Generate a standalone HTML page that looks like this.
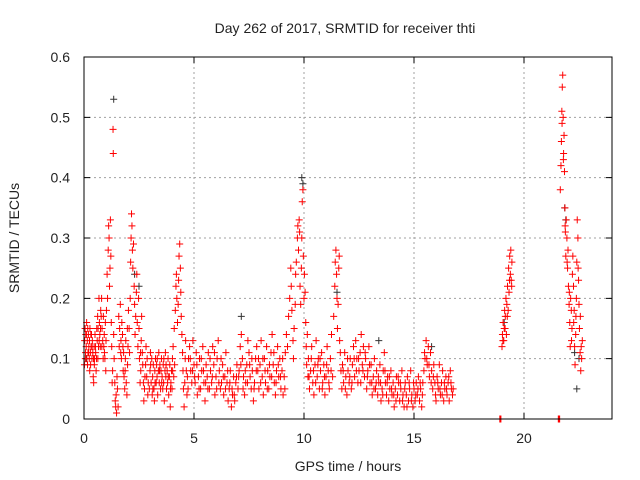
<!DOCTYPE html>
<html><head><meta charset="utf-8">
<style>
body{margin:0;background:#fff;}
svg{display:block;font-family:"Liberation Sans",sans-serif;}
</style></head>
<body>
<svg id="chart" width="640" height="480" viewBox="0 0 640 480">
<text x="345" y="33" font-size="14" text-anchor="middle" fill="#222">Day 262 of 2017, SRMTID for receiver thti</text>
<text x="348" y="471" font-size="14" text-anchor="middle" fill="#222">GPS time / hours</text>
<text transform="translate(19,238) rotate(-90)" font-size="14" text-anchor="middle" fill="#222">SRMTID / TECUs</text>
<g id="grid"></g>
<g id="ticks"></g>
<g id="black"></g>
<g id="red"></g>
<rect x="84" y="57" width="528" height="362" fill="none" stroke="#000" stroke-width="1"/>
</svg>
<script>
const xTicks=[0,5,10,15,20];
const yTicks=[0,0.1,0.2,0.3,0.4,0.5,0.6];
const yTickLabels=["0","0.1","0.2","0.3","0.4","0.5","0.6"];
const blackPts=[[1.35,0.53],[0.1,0.1],[2.3,0.24],[9.9,0.4],[9.95,0.39],[7.15,0.17],[21.85,0.35],[21.9,0.33],[22.3,0.11],[22.4,0.05],[22.5,0.1],[2.5,0.22],[11.5,0.21],[13.4,0.13],[19.1,0.16],[15.8,0.12]];
const redPts=[[0.02,0.09],[0.03,0.13],[0.05,0.15],[0.07,0.11],[0.08,0.14],[0.1,0.12],[0.12,0.16],[0.13,0.1],[0.15,0.13],[0.17,0.15],[0.18,0.11],[0.2,0.14],[0.22,0.12],[0.24,0.1],[0.25,0.13],[0.27,0.15],[0.29,0.11],[0.3,0.09],[0.32,0.12],[0.34,0.14],[0.36,0.1],[0.38,0.13],[0.4,0.11],[0.42,0.07],[0.44,0.06],[0.46,0.12],[0.48,0.1],[0.5,0.14],[0.52,0.12],[0.55,0.08],[0.57,0.1],[0.6,0.13],[0.62,0.17],[0.64,0.15],[0.66,0.12],[0.68,0.2],[0.7,0.16],[0.72,0.14],[0.74,0.12],[0.76,0.18],[0.78,0.17],[0.8,0.2],[0.82,0.15],[0.85,0.13],[0.87,0.1],[0.9,0.12],[0.92,0.14],[0.95,0.1],[0.97,0.16],[1.0,0.13],
[1.02,0.18],[1.05,0.24],[1.07,0.2],[1.1,0.28],[1.12,0.32],[1.14,0.3],[1.16,0.22],[1.18,0.25],[1.2,0.33],[1.22,0.27],[1.24,0.16],[1.26,0.12],[1.28,0.06],[1.3,0.08],[1.32,0.48],[1.33,0.44],[1.35,0.14],[1.37,0.1],[1.4,0.06],[1.42,0.03],[1.44,0.02],[1.46,0.04],[1.48,0.01],[1.5,0.07],[1.52,0.05],[1.55,0.02],
[1.6,0.12],[1.62,0.15],[1.65,0.19],[1.68,0.13],[1.7,0.1],[1.72,0.16],[1.75,0.14],[1.78,0.08],[1.8,0.11],[1.82,0.07],[1.85,0.05],[1.88,0.1],[1.9,0.13],[1.92,0.06],[1.95,0.04],[1.98,0.09],[2.0,0.12],[2.02,0.18],[2.05,0.15],
[2.1,0.2],[2.12,0.26],[2.14,0.3],[2.16,0.34],[2.18,0.32],[2.2,0.28],[2.22,0.25],[2.25,0.29],[2.28,0.22],[2.3,0.19],[2.32,0.14],[2.35,0.17],[2.38,0.21],[2.4,0.24],[2.42,0.16],[2.45,0.12],[2.48,0.2],[2.5,0.15],[2.52,0.1],[2.55,0.06],[2.58,0.08],[2.6,0.13],[2.62,0.17],[2.65,0.11],[2.7,0.06],[2.72,0.03],[2.75,0.05],[2.8,0.09],[2.82,0.12],[2.85,0.07],[2.9,0.04],[2.92,0.06],
[3.0,0.08],[3.02,0.11],[3.05,0.06],[3.08,0.1],[3.1,0.04],[3.12,0.07],[3.15,0.09],[3.18,0.05],[3.2,0.03],[3.22,0.08],[3.25,0.1],[3.28,0.06],[3.3,0.09],[3.32,0.07],[3.35,0.04],[3.38,0.08],[3.4,0.11],[3.42,0.06],[3.45,0.09],[3.48,0.05],[3.5,0.08],[3.52,0.1],[3.55,0.07],[3.58,0.05],[3.6,0.09],[3.62,0.06],[3.65,0.03],[3.68,0.08],[3.7,0.11],[3.72,0.07],[3.75,0.05],[3.78,0.08],[3.8,0.06],[3.82,0.1],[3.85,0.04],[3.88,0.07],[3.9,0.09],[3.92,0.02],[3.95,0.06],[3.98,0.08],[4.0,0.05],[4.02,0.1],[4.05,0.12],[4.08,0.07],[4.1,0.15],[4.12,0.09],
[4.15,0.18],[4.18,0.22],[4.2,0.24],[4.22,0.2],[4.25,0.16],[4.28,0.19],[4.3,0.23],[4.32,0.27],[4.35,0.29],[4.38,0.25],[4.4,0.21],[4.42,0.17],[4.45,0.14],[4.48,0.11],[4.5,0.08],[4.52,0.05],[4.55,0.02],[4.58,0.06],[4.6,0.1],[4.62,0.13],[4.65,0.08],[4.68,0.04],[4.7,0.07],
[4.75,0.1],[4.8,0.12],[4.85,0.08],[4.9,0.06],[4.95,0.13],[5.0,0.09],[5.05,0.06],[5.1,0.11],[5.15,0.04],[5.2,0.07],[5.25,0.1],[5.3,0.05],[5.35,0.08],[5.4,0.12],[5.45,0.06],[5.5,0.03],[5.55,0.09],[5.6,0.07],[5.65,0.11],[5.7,0.05],[5.75,0.08],[5.8,0.06],[5.85,0.12],[5.9,0.09],[5.95,0.04],[6.0,0.07],[6.05,0.1],[6.1,0.13],[6.15,0.08],[6.2,0.05],[6.25,0.06],[6.3,0.09],[6.35,0.04],[6.4,0.07],[6.45,0.11],[6.5,0.06],[6.55,0.03],[6.6,0.05],[6.65,0.08],[6.7,0.02],[6.75,0.04],[6.8,0.07],[6.85,0.03],[6.9,0.06],[6.95,0.09],
[7.0,0.05],[7.05,0.08],[7.1,0.12],[7.15,0.14],[7.2,0.1],[7.25,0.07],[7.3,0.04],[7.35,0.06],[7.4,0.09],[7.45,0.13],[7.5,0.11],[7.55,0.07],[7.6,0.05],[7.65,0.08],[7.7,0.03],[7.75,0.06],[7.8,0.1],[7.85,0.12],[7.9,0.08],[7.95,0.05],[8.0,0.09],[8.05,0.13],[8.1,0.07],[8.15,0.04],[8.2,0.1],[8.25,0.06],[8.3,0.12],[8.35,0.08],[8.4,0.05],[8.45,0.07],[8.5,0.11],[8.55,0.14],[8.6,0.09],[8.65,0.06],[8.7,0.04],[8.75,0.08],[8.8,0.12],[8.85,0.07],[8.9,0.1],[8.95,0.05],[9.0,0.08],[9.05,0.04],[9.1,0.07],[9.15,0.11],
[9.2,0.14],[9.25,0.12],[9.3,0.17],[9.35,0.2],[9.4,0.25],[9.42,0.22],[9.45,0.18],[9.5,0.13],[9.52,0.1],[9.55,0.15],[9.6,0.19],[9.62,0.24],[9.65,0.26],[9.7,0.3],[9.72,0.32],[9.75,0.28],[9.78,0.33],[9.8,0.31],[9.82,0.22],[9.85,0.19],[9.88,0.25],[9.9,0.3],[9.92,0.36],[9.95,0.38],[9.97,0.27],[10.0,0.2],[10.02,0.24],[10.05,0.21],[10.08,0.16],[10.1,0.12],[10.12,0.09],[10.15,0.14],[10.18,0.07],
[10.2,0.1],[10.25,0.05],[10.3,0.08],[10.35,0.12],[10.4,0.06],[10.45,0.04],[10.5,0.09],[10.55,0.13],[10.6,0.07],[10.65,0.1],[10.7,0.05],[10.75,0.08],[10.8,0.11],[10.85,0.06],[10.9,0.09],[10.95,0.04],[11.0,0.07],[11.05,0.12],[11.1,0.08],[11.15,0.05],[11.2,0.1],[11.25,0.14],[11.3,0.07],[11.35,0.17],
[11.4,0.22],[11.42,0.26],[11.45,0.28],[11.48,0.24],[11.5,0.2],[11.52,0.15],[11.55,0.19],[11.58,0.25],[11.6,0.27],[11.62,0.13],[11.65,0.11],[11.68,0.08],
[11.72,0.05],[11.75,0.09],[11.8,0.06],[11.85,0.11],[11.9,0.07],[11.95,0.04],[12.0,0.08],[12.05,0.06],[12.1,0.1],[12.15,0.05],[12.2,0.09],[12.25,0.12],[12.3,0.07],[12.35,0.13],[12.4,0.1],[12.45,0.06],[12.5,0.08],[12.55,0.11],[12.6,0.14],[12.65,0.09],[12.7,0.12],[12.75,0.07],[12.8,0.1],[12.85,0.05],[12.9,0.08],[12.95,0.12],[13.0,0.06],[13.05,0.09],[13.1,0.04],[13.15,0.07],[13.2,0.1],[13.25,0.05],
[13.3,0.08],[13.35,0.04],[13.4,0.06],[13.45,0.09],[13.5,0.03],[13.55,0.05],[13.6,0.08],[13.65,0.11],[13.7,0.06],[13.75,0.04],[13.8,0.07],[13.85,0.03],[13.9,0.05],[13.95,0.08],[14.0,0.04],[14.05,0.06],[14.1,0.02],[14.15,0.05],[14.2,0.07],[14.25,0.04],[14.3,0.06],[14.35,0.03],[14.4,0.05],[14.45,0.08],[14.5,0.04],[14.55,0.02],[14.6,0.06],[14.65,0.04],[14.7,0.07],[14.75,0.03],[14.8,0.05],[14.85,0.08],[14.9,0.04],[14.95,0.02],
[15.0,0.05],[15.05,0.03],[15.1,0.06],[15.15,0.04],[15.2,0.07],[15.25,0.03],[15.3,0.05],[15.35,0.02],[15.4,0.06],[15.45,0.08],[15.5,0.1],[15.55,0.13],[15.6,0.09],[15.65,0.12],[15.7,0.07],[15.75,0.11],[15.8,0.08],[15.85,0.05],[15.9,0.09],[15.95,0.06],[16.0,0.03],[16.05,0.07],[16.1,0.05],[16.15,0.09],[16.2,0.04],[16.25,0.06],[16.3,0.08],[16.35,0.03],[16.4,0.05],[16.45,0.07],[16.5,0.04],[16.55,0.06],[16.6,0.03],[16.65,0.08],[16.7,0.05],[16.75,0.04],
[18.95,0],[19.0,0.12],[19.02,0.14],[19.05,0.16],[19.08,0.13],[19.1,0.15],[19.12,0.18],[19.15,0.17],[19.18,0.2],[19.2,0.14],[19.22,0.19],[19.25,0.22],[19.28,0.18],[19.3,0.25],[19.32,0.21],[19.35,0.27],[19.38,0.24],[19.4,0.28],[19.42,0.23],[19.45,0.26],
[21.6,0],[21.65,0.38],[21.68,0.42],[21.7,0.46],[21.72,0.51],[21.74,0.55],[21.76,0.57],[21.78,0.5],[21.8,0.44],[21.82,0.47],[21.84,0.41],[21.86,0.35],[21.88,0.31],[21.9,0.27],[21.92,0.33],[21.95,0.3],[21.98,0.25],[22.0,0.28],[22.02,0.22],[22.05,0.19],[22.08,0.16],[22.1,0.12],[22.12,0.2],[22.15,0.18],[22.18,0.15],[22.2,0.24],[22.22,0.27],[22.25,0.22],[22.28,0.18],[22.3,0.12],[22.32,0.09],[22.35,0.14],[22.38,0.2],[22.4,0.26],[22.42,0.33],[22.45,0.3],[22.48,0.23],[22.5,0.19],[22.52,0.15],[22.55,0.11],[22.58,0.08],[22.62,0.1],[22.65,0.13]];
const redPts2=[[0.06,0.1],[0.11,0.14],[0.16,0.09],[0.21,0.11],[0.26,0.08],[0.31,0.14],[0.37,0.12],[0.43,0.1],[0.47,0.09],[0.53,0.11],[0.58,0.15],[0.63,0.1],[0.69,0.13],[0.75,0.15],[0.81,0.12],[0.88,0.17],[0.93,0.11],[0.99,0.08],
[1.58,0.17],[1.67,0.11],[1.77,0.12],[1.87,0.08],[1.97,0.15],[2.07,0.11],[2.57,0.11],[2.67,0.09],[2.77,0.07],[2.87,0.1],[2.97,0.05],
[3.03,0.09],[3.13,0.05],[3.23,0.06],[3.33,0.1],[3.43,0.08],[3.53,0.06],[3.63,0.1],[3.73,0.09],[3.83,0.07],[3.93,0.05],[4.03,0.08],
[4.73,0.05],[4.83,0.1],[4.93,0.08],[5.03,0.07],[5.13,0.09],[5.23,0.05],[5.33,0.1],[5.43,0.08],[5.53,0.06],[5.63,0.05],[5.73,0.1],[5.83,0.07],[5.93,0.11],[6.03,0.05],[6.13,0.06],[6.23,0.1],[6.33,0.07],[6.43,0.05],[6.53,0.08],[6.63,0.06],[6.73,0.05],[6.83,0.04],[6.93,0.07],
[7.03,0.07],[7.13,0.09],[7.23,0.05],[7.33,0.08],[7.43,0.06],[7.53,0.09],[7.63,0.1],[7.73,0.05],[7.83,0.08],[7.93,0.1],[8.03,0.06],[8.13,0.1],[8.23,0.08],[8.33,0.05],[8.43,0.09],[8.53,0.07],[8.63,0.11],[8.73,0.06],[8.83,0.09],[8.93,0.07],[9.03,0.1],[9.13,0.05],
[10.23,0.07],[10.33,0.1],[10.43,0.08],[10.53,0.06],[10.63,0.09],[10.73,0.1],[10.83,0.05],[10.93,0.07],[11.03,0.09],[11.13,0.06],[11.23,0.08],
[11.78,0.08],[11.88,0.05],[11.98,0.1],[12.08,0.07],[12.18,0.06],[12.28,0.1],[12.38,0.08],[12.48,0.1],[12.58,0.06],[12.68,0.08],[12.78,0.11],[12.88,0.07],[12.98,0.09],[13.08,0.06],[13.18,0.05],[13.28,0.06],
[13.38,0.07],[13.48,0.06],[13.58,0.04],[13.68,0.08],[13.78,0.06],[13.88,0.07],[13.98,0.05],[14.08,0.04],[14.18,0.03],[14.28,0.07],[14.38,0.06],[14.48,0.03],[14.58,0.05],[14.68,0.02],[14.78,0.06],[14.88,0.03],[14.98,0.06],
[15.08,0.04],[15.18,0.05],[15.28,0.06],[15.38,0.04],[15.48,0.11],[15.58,0.1],[15.68,0.09],[15.78,0.06],[15.88,0.07],[15.98,0.04],[16.08,0.06],[16.18,0.05],[16.28,0.04],[16.38,0.06],[16.48,0.05],[16.58,0.07],[16.68,0.06],[16.78,0.05],
[18.9,0],[18.92,0],[19.04,0.13],[19.14,0.15],[19.24,0.17],[19.34,0.23],[19.44,0.22],
[21.56,0],[21.58,0],[21.62,0],[21.73,0.49],[21.79,0.43],[21.87,0.32],[21.96,0.26],[22.06,0.21],[22.16,0.13],[22.26,0.16],[22.36,0.17],[22.46,0.25],[22.56,0.17],[22.6,0.12]];

const NS="http://www.w3.org/2000/svg";
const X0=84,X1=612,Y0=419,Y1=57,XMAX=24,YMAX=0.6;
function xs(t){return X0+(X1-X0)*t/XMAX;}
function ys(v){return Y0-(Y0-Y1)*v/YMAX;}
function mk(tag,attrs){const e=document.createElementNS(NS,tag);for(const k in attrs)e.setAttribute(k,attrs[k]);return e;}
const grid=document.getElementById('grid'),ticks=document.getElementById('ticks');
xTicks.forEach(t=>{
  const x=xs(t);
  if(t>0){const g=mk('line',{x1:x,y1:Y0,x2:x,y2:Y1,stroke:'#a0a0a0','stroke-dasharray':'2,3'});
  
  
  grid.appendChild(g);}
  const tk=mk('path',{d:`M${x},${Y0}v-6M${x},${Y1}v6`,stroke:'#000'});
  
  
  ticks.appendChild(tk);
  const l=mk('text',{x:x,y:443,'font-size':14,'text-anchor':'middle',fill:'#222'});
  l.textContent=String(t);
  
  
  ticks.appendChild(l);
});
yTicks.forEach((v,i)=>{
  const y=ys(v);
  if(v>0&&v<YMAX){const g=mk('line',{x1:X0,y1:y,x2:X1,y2:y,stroke:'#a0a0a0','stroke-dasharray':'2,3'});
  
  
  grid.appendChild(g);}
  const tk=mk('path',{d:`M${X0},${y}h6M${X1},${y}h-6`,stroke:'#000'});
  
  
  ticks.appendChild(tk);
  const l=mk('text',{x:70,y:y+5,'font-size':14,'text-anchor':'end',fill:'#222'});
  l.textContent=yTickLabels[i];
  
  
  ticks.appendChild(l);
});
function drawSeries(gid,pts,color,name){
  const g=document.getElementById(gid);let d='';
  pts.forEach(p=>{const x=xs(p[0]),y=ys(p[1]);d+=`M${x-3.5},${y}h7M${x},${y-3.5}v7`;});
  const path=mk('path',{d:d,stroke:color,'stroke-width':1,fill:'none'});
  
  
  g.appendChild(path);
}
drawSeries('black',blackPts,'#333','black-points');
drawSeries('red',redPts,'#ff0000','red-points');
drawSeries('red',redPts2,'#ff0000','red-points-extra');
</script>
</body></html>
